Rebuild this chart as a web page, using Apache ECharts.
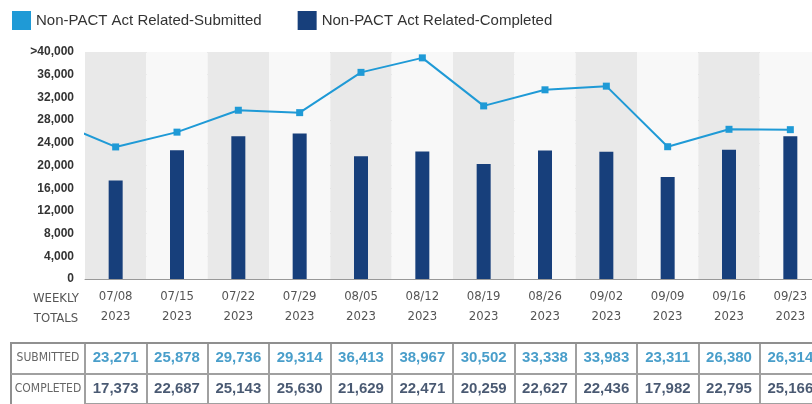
<!DOCTYPE html>
<html>
<head>
<meta charset="utf-8">
<script src="https://cdn.jsdelivr.net/npm/echarts@6/dist/echarts.min.js"></script>
<style>
  html, body { margin: 0; padding: 0; background: #fff; overflow: hidden; }
  /* the reference crops the last week's column, so the chart runs past the right edge */
  #chart { width: 821px; height: 404px; }
</style>
</head>
<body>
<div id="chart"></div>
<script>
// weekly totals
var weeks = ['07/08', '07/15', '07/22', '07/29', '08/05', '08/12', '08/19', '08/26', '09/02', '09/09', '09/16', '09/23'];
var year = '2023';
var submitted = [23271, 25878, 29736, 29314, 36413, 38967, 30502, 33338, 33983, 23311, 26380, 26314];
var completed = [17373, 22687, 25143, 25630, 21629, 22471, 20259, 22627, 22436, 17982, 22795, 25166];
// the week before the first one, only its line stub shows at the left edge (estimated)
var priorWeek = '07/01';
var priorSubmitted = 27800;
var yTicks = [0, 4000, 8000, 12000, 16000, 20000, 24000, 28000, 32000, 36000, 40000];
var rows = ['SUBMITTED', 'COMPLETED'];

var blue = '#1f9ad6';
var navy = '#173f7b';
var narrow = '"Liberation Sans Narrow", "DejaVu Sans Condensed", "Liberation Sans", sans-serif';

var cats = [priorWeek].concat(weeks);
var lineData = [priorSubmitted].concat(submitted);
var barData = [null].concat(completed);

var cells = [];
submitted.forEach(function (v, i) {
    cells.push({ value: [i + 1, 0, v], label: { color: '#1b86bd' } });
});
completed.forEach(function (v, i) {
    cells.push({ value: [i + 1, 1, v], label: { color: '#1b2f4f' } });
});

var chart = echarts.init(document.getElementById('chart'));

var option = {
    animation: false,
    legend: {
        left: 7,
        top: 6,
        itemWidth: 19,
        itemHeight: 19,
        itemGap: 36,
        textStyle: { fontSize: 15, color: '#333', fontFamily: '"Liberation Sans", sans-serif' },
        data: [
            { name: 'Non-PACT Act Related-Submitted', icon: 'rect', itemStyle: { color: blue } },
            { name: 'Non-PACT Act Related-Completed', icon: 'rect', itemStyle: { color: navy } }
        ]
    },
    grid: [
        { left: 85, right: 0, top: 52, height: 227 },
        { left: 85, right: 0, top: 343, height: 62 }
    ],
    xAxis: [
        {
            type: 'category',
            gridIndex: 0,
            data: cats,
            min: 1,
            axisLine: { lineStyle: { color: '#999', width: 1 } },
            axisTick: { show: false },
            axisLabel: {
                interval: 0,
                margin: 8,
                fontSize: 13,
                lineHeight: 20,
                color: '#555',
                fontFamily: narrow,
                formatter: function (v) { return v + '\n' + year; }
            },
            splitArea: {
                show: true,
                interval: 0,
                areaStyle: { color: ['#e9e9e9', '#f8f8f8'] }
            }
        },
        {
            type: 'category',
            gridIndex: 1,
            data: cats,
            min: 1,
            position: 'top',
            axisLine: { lineStyle: { color: '#8f8f8f', width: 2 } },
            axisTick: { show: false },
            axisLabel: { show: false },
            splitLine: { show: true, interval: 0, lineStyle: { color: '#a0a0a0', width: 2 } }
        }
    ],
    yAxis: [
        {
            type: 'value',
            gridIndex: 0,
            min: yTicks[0],
            max: yTicks[yTicks.length - 1],
            interval: 4000,
            axisLine: { show: false },
            axisTick: { show: false },
            splitLine: { lineStyle: { color: '#c9c9c9' } },
            axisLabel: {
                margin: 11,
                fontSize: 12,
                fontWeight: 'bold',
                color: '#333',
                fontFamily: '"Liberation Sans", sans-serif',
                formatter: function (v) {
                    var s = v.toLocaleString('en-US');
                    return v === yTicks[yTicks.length - 1] ? '>' + s : s;
                }
            }
        },
        {
            type: 'category',
            gridIndex: 1,
            data: rows,
            inverse: true,
            axisLine: { show: true, lineStyle: { color: '#a0a0a0', width: 2 } },
            axisTick: { show: false },
            splitLine: { show: true, interval: 0, lineStyle: { color: '#a0a0a0', width: 2 } },
            axisLabel: {
                margin: 37,
                align: 'center',
                fontSize: 12,
                color: '#666',
                fontFamily: narrow
            }
        }
    ],
    graphic: [
        {
            type: 'text',
            x: 56,
            y: 289,
            style: {
                text: 'WEEKLY\nTOTALS',
                lineHeight: 20,
                fill: '#555',
                align: 'center',
                font: '13px ' + narrow
            }
        },
        {
            type: 'rect',
            shape: { x: 11, y: 343, width: 74, height: 70 },
            style: { fill: 'none', stroke: '#909090', lineWidth: 2 }
        },
        {
            type: 'line',
            shape: { x1: 11, y1: 374, x2: 85, y2: 374 },
            style: { stroke: '#a0a0a0', lineWidth: 2 }
        }
    ],
    series: [
        {
            name: 'Non-PACT Act Related-Completed',
            type: 'bar',
            xAxisIndex: 0,
            yAxisIndex: 0,
            barWidth: 14,
            itemStyle: { color: navy },
            data: barData
        },
        {
            name: 'Non-PACT Act Related-Submitted',
            type: 'line',
            xAxisIndex: 0,
            yAxisIndex: 0,
            clip: true,
            symbol: 'rect',
            symbolSize: 7,
            lineStyle: { color: blue, width: 2 },
            itemStyle: { color: blue },
            data: lineData,
            z: 3
        },
        {
            type: 'scatter',
            xAxisIndex: 1,
            yAxisIndex: 1,
            symbolSize: 1,
            itemStyle: { color: 'rgba(0,0,0,0)' },
            silent: true,
            label: {
                show: true,
                position: 'inside',
                fontSize: 15,
                fontWeight: 'bold',
                fontFamily: '"Liberation Sans Narrow", "Liberation Sans", sans-serif',
                formatter: function (p) { return p.value[2].toLocaleString('en-US'); }
            },
            data: cells
        }
    ]
};

chart.setOption(option);
</script>
</body>
</html>
